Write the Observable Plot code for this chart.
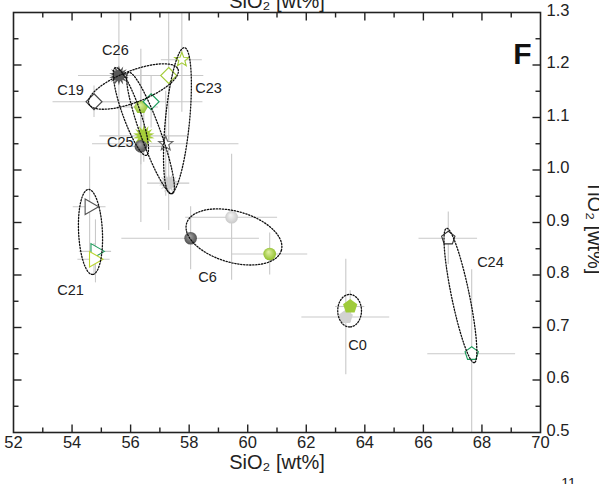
<!DOCTYPE html>
<html>
<head>
<meta charset="utf-8">
<script src="https://cdn.jsdelivr.net/npm/d3@7"></script>
<script src="https://cdn.jsdelivr.net/npm/@observablehq/plot@0.6"></script>
<style>
  html, body { margin: 0; padding: 0; background: #fff; }
  #chart { width: 599px; height: 484px; overflow: hidden; }
</style>
</head>
<body>
<div id="chart"></div>
<script>
// ---------------- data ----------------
const markerKind = ["burst-dark","diamond-white","star-yg","diamond-yg","hex-yg","diamond-green","burst-yg","sphere-dark","star-white","burst-light",
                    "sphere-light","sphere-dark","sphere-yg","tri-white","tri-green","tri-yg","pent-yg","pent-light","pent-white","pent-green"];
const sio2    = [55.6, 54.75, 57.75, 57.3, 56.35, 56.7, 56.45, 56.35, 57.2, 57.3, 59.45, 58.05, 60.75, 54.6, 54.8, 54.75, 63.5, 63.35, 66.85, 67.65];
const tio2    = [1.18, 1.13, 1.21, 1.18, 1.12, 1.13, 1.065, 1.045, 1.05, 0.975, 0.91, 0.87, 0.84, 0.93, 0.845, 0.83, 0.74, 0.72, 0.87, 0.65];
const sio2Err = [1.38, 1.4, 0.7, 1.2, 0.6, 1.77, 1.5, 1.0, 2.5, 0.72, 1.57, 2.35, 1.3, 0.56, 0.55, 0.55, 0.5, 1.5, 1.0, 1.5];
const tio2Err = [0.14, 0.03, 0.1, 0.13, 0.11, 0.05, 0.05, 0.145, 0.1, 0.09, 0.12, 0.06, 0.04, 0.095, 0.06, 0.03, 0.03, 0.11, 0.05, 0.16];

// confidence ellipses: major-axis tips [SiO2, TiO2] and minor/major ratio
const ellipseGroup = ["C0", "C24", "C21", "C6", "C19-C23", "C23", "C26-C25", "C25-b"];
const ellipseTipA = [[63.48, 0.763], [66.79, 0.889], [54.56, 0.963], [57.91, 0.898], [54.575, 1.126], [57.84, 1.233], [55.48, 1.195], [55.93, 1.186]];
const ellipseTipB = [[63.48, 0.701], [67.74, 0.633], [54.70, 0.801], [61.15, 0.847], [57.62, 1.192], [57.36, 0.955], [56.54, 1.028], [57.43, 0.955]];
const ellipseRatio = [0.73, 0.13, 0.28, 0.52, 0.33, 0.165, 0.19, 0.155];

// group labels
const groupLabel = ["C26", "C19", "C23", "C25", "C21", "C6", "C0", "C24"];
const groupLabelX = [55.48, 53.95, 58.66, 55.65, 53.95, 58.63, 63.75, 68.29];
const groupLabelY = [1.228, 1.151, 1.155, 1.052, 0.77, 0.795, 0.666, 0.824];

// axes
const xTickLabels = [52, 54, 56, 58, 60, 62, 64, 66, 68, 70];
const xMajorTicks = [54, 56, 58, 60, 62, 64, 66, 68];
const xMinorTicks = [53, 55, 57, 59, 61, 63, 65, 67, 69];
const yTickLabels = [0.5, 0.6, 0.7, 0.8, 0.9, 1.0, 1.1, 1.2, 1.3];
const yMajorTicks = [0.6, 0.7, 0.8, 0.9, 1.0, 1.1, 1.2];
const yMinorTicks = [0.55, 0.65, 0.75, 0.85, 0.95, 1.05, 1.15, 1.25];

// ---------------- layout ----------------
const W = 599, H = 484, mL = 13, mR = 59, mT = 12, mB = 52;
const xDom = [52, 70], yDom = [0.5, 1.3];
const kx = (W - mL - mR) / (xDom[1] - xDom[0]);
const ky = (H - mT - mB) / (yDom[1] - yDom[0]);

// ---------------- symbols ----------------
function poly(n, inner, rotDeg) {
  return {draw(ctx, size) {
    const R = Math.sqrt(size / Math.PI);
    const m = inner ? 2 * n : n;
    for (let i = 0; i < m; i++) {
      const r = inner && (i % 2) ? R * inner : R;
      const a = (rotDeg + i * 360 / m) * Math.PI / 180;
      const px = r * Math.sin(a), py = -r * Math.cos(a);
      if (i) ctx.lineTo(px, py); else ctx.moveTo(px, py);
    }
    ctx.closePath();
  }};
}
function tick(dx, dy) {
  return {draw(ctx, size) {
    const L = Math.sqrt(size / Math.PI);
    ctx.moveTo(0, 0); ctx.lineTo(dx * L, dy * L);
  }};
}
const burst = poly(14, 0.55, 0);
const star = poly(5, 0.42, 0);
const diamond = poly(4, 0, 0);
const triRight = poly(3, 0, 90);
const pentagon = poly(5, 0, 0);
const hexagon = poly(6, 0, 30);

const YG = "#a3cb38", GREEN = "#1b9b5a";
const markerStyle = {
  "burst-light":   {shape: burst, r: 10, fill: "#cdcdcd", stroke: "none"},
  "sphere-light":  {shape: "circle", r: 6.3, fill: "url(#gLight)", stroke: "none"},
  "sphere-yg":     {shape: "circle", r: 6.3, fill: "url(#gYG)", stroke: "none"},
  "pent-light":    {shape: pentagon, r: 7.5, fill: "#d2d2d2", stroke: "none"},
  "pent-yg":       {shape: pentagon, r: 7.5, fill: "#9fcb3a", stroke: "none"},
  "pent-white":    {shape: pentagon, r: 7, fill: "white", stroke: "#333"},
  "pent-green":    {shape: pentagon, r: 7, fill: "white", stroke: GREEN},
  "tri-white":     {shape: triRight, r: 9, fill: "white", stroke: "#555"},
  "tri-green":     {shape: triRight, r: 9, fill: "white", stroke: GREEN},
  "tri-yg":        {shape: triRight, r: 9, fill: "white", stroke: "#bcd631"},
  "diamond-white": {shape: diamond, r: 8, fill: "white", stroke: "#444"},
  "diamond-yg":    {shape: diamond, r: 8, fill: "white", stroke: YG},
  "star-yg":       {shape: star, r: 7.5, fill: "white", stroke: YG},
  "star-white":    {shape: star, r: 7.5, fill: "white", stroke: "#666"},
  "burst-dark":    {shape: burst, r: 10, fill: "#585858", stroke: "none"},
  "hex-yg":        {shape: hexagon, r: 7, fill: "url(#gYG)", stroke: "none"},
  "diamond-green": {shape: diamond, r: 8, fill: "white", stroke: GREEN},
  "burst-yg":      {shape: burst, r: 11, fill: "#a5cd39", stroke: "none"},
  "sphere-dark":   {shape: "circle", r: 6.3, fill: "url(#gDark)", stroke: "none"}
};

// ---------------- derived tables ----------------
const points = sio2.map((x, i) => ({x, y: tio2[i], ex: sio2Err[i], ey: tio2Err[i], kind: markerKind[i]}));

const ellipsePts = [];
ellipseGroup.forEach((id, k) => {
  const ax = ellipseTipA[k][0] * kx, ay = -ellipseTipA[k][1] * ky;
  const bx = ellipseTipB[k][0] * kx, by = -ellipseTipB[k][1] * ky;
  const cx = (ax + bx) / 2, cy = (ay + by) / 2;
  const a = Math.hypot(bx - ax, by - ay) / 2, b = a * ellipseRatio[k];
  const t = Math.atan2(by - ay, bx - ax);
  for (let i = 0; i < 90; i++) {
    const s = i / 90 * 2 * Math.PI;
    const px = cx + a * Math.cos(s) * Math.cos(t) - b * Math.sin(s) * Math.sin(t);
    const py = cy + a * Math.cos(s) * Math.sin(t) + b * Math.sin(s) * Math.cos(t);
    ellipsePts.push({id, x: px / kx, y: -py / ky});
  }
});

const labels = groupLabel.map((t, i) => ({t, x: groupLabelX[i], y: groupLabelY[i]}));

const tickStyle = {stroke: "#222", strokeWidth: 1.4, fill: "none"};

const plot = Plot.plot({
  width: W, height: H,
  marginLeft: mL, marginRight: mR, marginTop: mT, marginBottom: mB,
  x: {domain: xDom, axis: null},
  y: {domain: yDom, axis: null},
  style: {fontFamily: "'Liberation Sans', Arial, sans-serif", background: "white", color: "#222"},
  marks: [
    // error bars
    Plot.ruleY(points, {y: "y", x1: d => d.x - d.ex, x2: d => d.x + d.ex, stroke: "#c9c9c9", strokeWidth: 1.1, clip: true}),
    Plot.ruleX(points, {x: "x", y1: d => d.y - d.ey, y2: d => d.y + d.ey, stroke: "#c9c9c9", strokeWidth: 1.1, clip: true}),
    // markers
    ...Object.entries(markerStyle).map(([k, s]) =>
      Plot.dot(points.filter(p => p.kind === k), {x: "x", y: "y", symbol: s.shape, r: s.r, fill: s.fill, stroke: s.stroke, strokeWidth: 1.1})),
    // ellipses
    Plot.line(ellipsePts, {x: "x", y: "y", z: "id", curve: "linear-closed", stroke: "#111", strokeWidth: 1.3, strokeDasharray: "1.3,1.7"}),
    // group labels
    Plot.text(labels, {x: "x", y: "y", text: "t", fontSize: 14.5, fill: "#222"}),
    // frame & ticks
    Plot.frame({stroke: "#222", strokeWidth: 1.6}),
    Plot.dot(xMajorTicks, {x: d => d, frameAnchor: "bottom", symbol: tick(0, -1), r: 8, ...tickStyle}),
    Plot.dot(xMinorTicks, {x: d => d, frameAnchor: "bottom", symbol: tick(0, -1), r: 5, ...tickStyle}),
    Plot.dot(xMajorTicks, {x: d => d, frameAnchor: "top", symbol: tick(0, 1), r: 8, ...tickStyle}),
    Plot.dot(xMinorTicks, {x: d => d, frameAnchor: "top", symbol: tick(0, 1), r: 5, ...tickStyle}),
    Plot.dot(yMajorTicks, {y: d => d, frameAnchor: "left", symbol: tick(1, 0), r: 8, ...tickStyle}),
    Plot.dot(yMinorTicks, {y: d => d, frameAnchor: "left", symbol: tick(1, 0), r: 5, ...tickStyle}),
    Plot.dot(yMajorTicks, {y: d => d, frameAnchor: "right", symbol: tick(-1, 0), r: 8, ...tickStyle}),
    Plot.dot(yMinorTicks, {y: d => d, frameAnchor: "right", symbol: tick(-1, 0), r: 5, ...tickStyle}),
    // tick labels
    Plot.text(xTickLabels, {x: d => d, frameAnchor: "bottom", textAnchor: "middle", dy: 15, text: d => String(d), fontSize: 16.5, fill: "#222"}),
    Plot.text(yTickLabels, {y: d => d, frameAnchor: "right", textAnchor: "start", dx: 6, dy: -2, text: d => d.toFixed(1), fontSize: 16.5, fill: "#222"}),
    // axis titles
    Plot.text(["SiO₂ [wt%]"], {frameAnchor: "bottom", textAnchor: "middle", dy: 36, fontSize: 20, fill: "#222"}),
    Plot.text(["SiO₂ [wt%]"], {frameAnchor: "top", textAnchor: "middle", dy: -19, fontSize: 20, fill: "#222"}),
    Plot.text(["TiO₂ [wt%]"], {frameAnchor: "right", textAnchor: "middle", dx: 54, dy: 5, rotate: 90, fontSize: 20, fill: "#222"}),
    // panel letter & page number fragment
    Plot.text(["F"], {frameAnchor: "top-right", dx: -9, dy: 30, textAnchor: "end", fontSize: 30, fontWeight: "bold", fill: "#111"}),
    Plot.text(["11"], {frameAnchor: "bottom-right", textAnchor: "middle", dx: 28, dy: 55, fontSize: 14, fill: "#222"})
  ]
});

// gradients for the shaded spheres
const defs = d3.create("svg:defs");
[["gDark", "#a8a8a8", "#4a4a4a"], ["gLight", "#f6f6f6", "#c6c6c6"], ["gYG", "#e2f2a6", "#8dbd28"]].forEach(([id, c0, c1]) => {
  const g = defs.append("radialGradient").attr("id", id).attr("cx", "50%").attr("cy", "50%").attr("r", "55%").attr("fx", "40%").attr("fy", "32%");
  g.append("stop").attr("offset", "0%").attr("stop-color", c0);
  g.append("stop").attr("offset", "100%").attr("stop-color", c1);
});
plot.insertBefore(defs.node(), plot.firstChild);
document.getElementById("chart").appendChild(plot);
</script>
</body>
</html>
